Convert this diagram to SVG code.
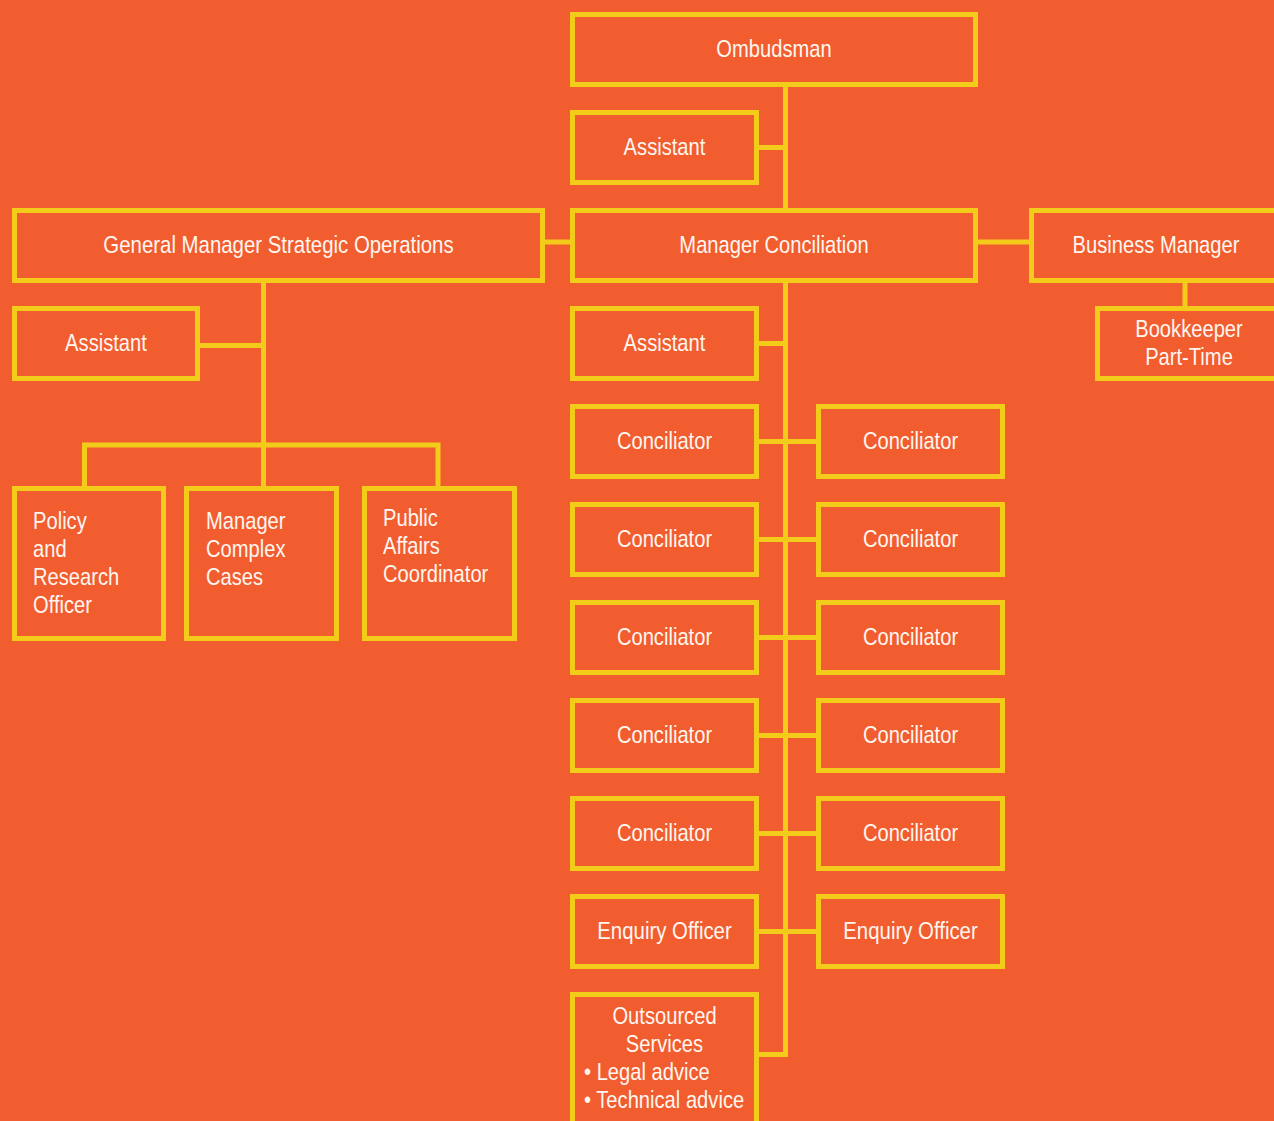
<svg xmlns="http://www.w3.org/2000/svg" width="1274" height="1121" viewBox="0 0 1274 1121">
<style>
.box{fill:none;stroke:#F2CB1B;stroke-width:5}
.con{fill:none;stroke:#F2CB1B;stroke-width:5}
text{font-family:"Liberation Sans",Arial,sans-serif;font-size:24px;fill:#FFF6F0}
.c{text-anchor:middle}
</style>
<rect x="0" y="0" width="1274" height="1121" fill="#F15D2F"/>
<g id="connectors">
<path class="con" d="M785.5 84.5V210.5M756.5 147.5H785.5M785.5 280.5V1054.5H756.5M756.5 343.5H785.5"/>
<path class="con" d="M756.5 441.5H818.5M756.5 539.5H818.5M756.5 637.5H818.5M756.5 735.5H818.5M756.5 833.5H818.5M756.5 931.5H818.5"/>
<path class="con" d="M542.5 242H572.5M975.5 242H1031.5M1185 280.5V308.5"/>
<path class="con" d="M263.5 280.5V445M197.5 345.5H263.5M84.5 488.5V445H438V488.5M263.5 445V488.5"/>
</g>
<g id="ombudsman"><rect class="box" x="572.5" y="14.5" width="403" height="70"/><text class="c" transform="translate(774 56.5) scale(0.84 1)">Ombudsman</text></g>
<g id="assistant-ombudsman"><rect class="box" x="572.5" y="112.5" width="184" height="70"/><text class="c" transform="translate(664.5 154.5) scale(0.84 1)">Assistant</text></g>
<g id="manager-conciliation"><rect class="box" x="572.5" y="210.5" width="403" height="70"/><text class="c" transform="translate(774 252.5) scale(0.84 1)">Manager Conciliation</text></g>
<g id="gm-strategic"><rect class="box" x="14.5" y="210.5" width="528" height="70"/><text class="c" transform="translate(278.5 252.5) scale(0.85 1)">General Manager Strategic Operations</text></g>
<g id="business-manager"><rect class="box" x="1031.5" y="210.5" width="250" height="70"/><text class="c" transform="translate(1156 252.5) scale(0.84 1)">Business Manager</text></g>
<g id="bookkeeper"><rect class="box" x="1097.5" y="308.5" width="185" height="70"/><text class="c" transform="translate(1189 336.5) scale(0.84 1)">Bookkeeper</text><text class="c" transform="translate(1189 364.5) scale(0.84 1)">Part-Time</text></g>
<g id="assistant-gm"><rect class="box" x="14.5" y="308.5" width="183" height="70"/><text class="c" transform="translate(106 350.5) scale(0.84 1)">Assistant</text></g>
<g id="policy"><rect class="box" x="14.5" y="488.5" width="149" height="150"/><text transform="translate(33 528.5) scale(0.84 1)">Policy</text><text transform="translate(33 556.5) scale(0.84 1)">and</text><text transform="translate(33 584.5) scale(0.84 1)">Research</text><text transform="translate(33 612.5) scale(0.84 1)">Officer</text></g>
<g id="manager-complex"><rect class="box" x="186.5" y="488.5" width="150" height="150"/><text transform="translate(206 528.5) scale(0.84 1)">Manager</text><text transform="translate(206 556.5) scale(0.84 1)">Complex</text><text transform="translate(206 584.5) scale(0.84 1)">Cases</text></g>
<g id="public-affairs"><rect class="box" x="364.5" y="488.5" width="150" height="150"/><text transform="translate(383 525.5) scale(0.84 1)">Public</text><text transform="translate(383 553.5) scale(0.84 1)">Affairs</text><text transform="translate(383 581.5) scale(0.84 1)">Coordinator</text></g>
<g id="assistant-mc"><rect class="box" x="572.5" y="308.5" width="184" height="70"/><text class="c" transform="translate(664.5 350.5) scale(0.84 1)">Assistant</text></g>
<g id="conciliator-1l"><rect class="box" x="572.5" y="406.5" width="184" height="70"/><text class="c" transform="translate(664.5 448.5) scale(0.84 1)">Conciliator</text></g>
<g id="conciliator-1r"><rect class="box" x="818.5" y="406.5" width="184" height="70"/><text class="c" transform="translate(910.5 448.5) scale(0.84 1)">Conciliator</text></g>
<g id="conciliator-2l"><rect class="box" x="572.5" y="504.5" width="184" height="70"/><text class="c" transform="translate(664.5 546.5) scale(0.84 1)">Conciliator</text></g>
<g id="conciliator-2r"><rect class="box" x="818.5" y="504.5" width="184" height="70"/><text class="c" transform="translate(910.5 546.5) scale(0.84 1)">Conciliator</text></g>
<g id="conciliator-3l"><rect class="box" x="572.5" y="602.5" width="184" height="70"/><text class="c" transform="translate(664.5 644.5) scale(0.84 1)">Conciliator</text></g>
<g id="conciliator-3r"><rect class="box" x="818.5" y="602.5" width="184" height="70"/><text class="c" transform="translate(910.5 644.5) scale(0.84 1)">Conciliator</text></g>
<g id="conciliator-4l"><rect class="box" x="572.5" y="700.5" width="184" height="70"/><text class="c" transform="translate(664.5 742.5) scale(0.84 1)">Conciliator</text></g>
<g id="conciliator-4r"><rect class="box" x="818.5" y="700.5" width="184" height="70"/><text class="c" transform="translate(910.5 742.5) scale(0.84 1)">Conciliator</text></g>
<g id="conciliator-5l"><rect class="box" x="572.5" y="798.5" width="184" height="70"/><text class="c" transform="translate(664.5 840.5) scale(0.84 1)">Conciliator</text></g>
<g id="conciliator-5r"><rect class="box" x="818.5" y="798.5" width="184" height="70"/><text class="c" transform="translate(910.5 840.5) scale(0.84 1)">Conciliator</text></g>
<g id="enquiry-l"><rect class="box" x="572.5" y="896.5" width="184" height="70"/><text class="c" transform="translate(664.5 938.5) scale(0.85 1)">Enquiry Officer</text></g>
<g id="enquiry-r"><rect class="box" x="818.5" y="896.5" width="184" height="70"/><text class="c" transform="translate(910.5 938.5) scale(0.85 1)">Enquiry Officer</text></g>
<g id="outsourced"><rect class="box" x="572.5" y="994.5" width="184" height="150"/><text class="c" transform="translate(664.5 1023.5) scale(0.84 1)">Outsourced</text><text class="c" transform="translate(664.5 1051.5) scale(0.84 1)">Services</text><text transform="translate(584 1079.5) scale(0.84 1)">• Legal advice</text><text transform="translate(584 1107.5) scale(0.84 1)">• Technical advice</text></g>
</svg>
